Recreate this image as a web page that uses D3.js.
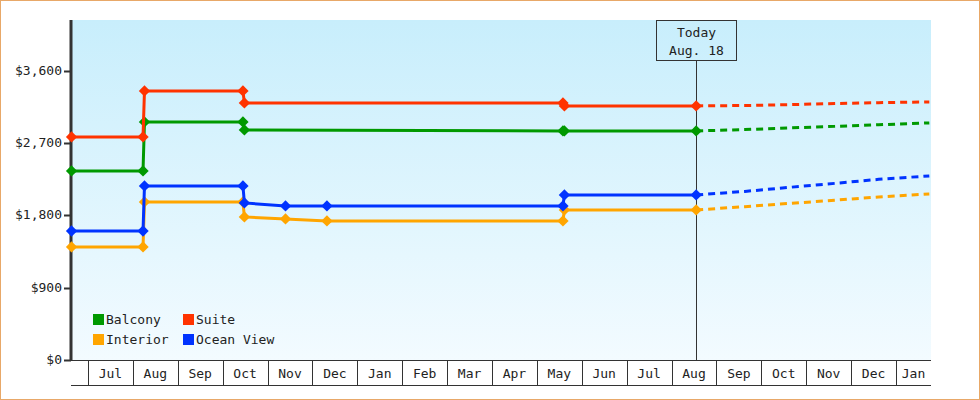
<!DOCTYPE html>
<html><head><meta charset="utf-8">
<script src="https://cdn.jsdelivr.net/npm/d3@7"></script>
<style>body{margin:0}svg{display:block}text{font-family:"DejaVu Sans Mono",monospace;fill:#222}</style>
</head><body><svg id="c" width="980" height="400"></svg>
<script>
const seriesNames=["Balcony","Suite","Interior","Ocean View"];
const colors=["#009900","#ff3300","#ffa500","#0033ff"];
const dates=["2012-06-20","2012-08-08","2012-08-09","2012-10-15","2012-10-16","2012-11-13","2012-12-11","2013-05-19","2013-05-20","2013-08-18"];
const balcony=[2355,2355,2965,2965,2866,null,null,2853,2853,2853];
const suite=[2779,2779,3352,3352,3202,null,null,3202,3165,3165];
const interior=[1408,1408,1969,1969,1782,1757,1732,1732,1869,1869];
const ocean=[1607,1607,2168,2168,1956,1919,1919,1919,2056,2056];
const fcDates=["2013-08-18","2013-09-20","2013-10-20","2013-11-20","2013-12-20","2014-01-24"];
const fcBalcony=[2853,2870,2890,2910,2930,2953];
const fcSuite=[3165,3170,3180,3195,3205,3215];
const fcInterior=[1869,1910,1950,1990,2030,2068];
const fcOcean=[2056,2100,2150,2200,2250,2293];
const yTicks=[0,900,1800,2700,3600];
const monthTicks=["2012-07-01","2012-08-01","2012-09-01","2012-10-01","2012-11-01","2012-12-01","2013-01-01","2013-02-01","2013-03-01","2013-04-01","2013-05-01","2013-06-01","2013-07-01","2013-08-01","2013-09-01","2013-10-01","2013-11-01","2013-12-01","2014-01-01"];
const today="2013-08-18";

const P=d3.timeParse("%Y-%m-%d");
function mu(s){const d=P(s);const m0=d3.timeMonth.floor(d),m1=d3.timeMonth.offset(m0,1);return d.getFullYear()*12+d.getMonth()+(d-m0)/(m1-m0);}
const svg=d3.select("#c");
const L=71,R=931,T=20,B=360;
const x=d3.scaleLinear().domain([mu("2012-07-01"),mu("2014-01-01")]).range([88,896]);
const X=s=>x(mu(s));
const y=d3.scaleLinear().domain([0,4235]).range([B,T]);
svg.append("rect").attr("x",0.5).attr("y",0.5).attr("width",979).attr("height",399).attr("fill","#fff").attr("stroke","#e8a868");
const g=svg.append("defs").append("linearGradient").attr("id","bg").attr("x1",0).attr("x2",0).attr("y1",0).attr("y2",1);
g.append("stop").attr("offset","0").attr("stop-color","#c8eefc");
g.append("stop").attr("offset","1").attr("stop-color","#f3fbff");
svg.append("rect").attr("x",L).attr("y",T).attr("width",R-L).attr("height",B-T).attr("fill","url(#bg)");

svg.append("line").attr("x1",L).attr("x2",R).attr("y1",385.5).attr("y2",385.5).attr("stroke","#333");
svg.append("line").attr("x1",L).attr("x2",R).attr("y1",B+0.5).attr("y2",B+0.5).attr("stroke","#333");
monthTicks.forEach((d,i)=>{
  const xx=Math.round(X(d))+0.5;
  svg.append("line").attr("x1",xx).attr("x2",xx).attr("y1",B).attr("y2",385).attr("stroke","#333");
  const nx=i<monthTicks.length-1?X(monthTicks[i+1]):R;
  svg.append("text").attr("x",(X(d)+nx)/2).attr("y",378).attr("text-anchor","middle").attr("font-size",13).text(d3.timeFormat("%b")(P(d)));
});
svg.append("line").attr("x1",L).attr("x2",L).attr("y1",T).attr("y2",B+1).attr("stroke","#333").attr("stroke-width",3);
yTicks.forEach(v=>{
  svg.append("line").attr("x1",L-7).attr("x2",L).attr("y1",Math.round(y(v))+0.5).attr("y2",Math.round(y(v))+0.5).attr("stroke","#333").attr("stroke-width",2);
  svg.append("text").attr("x",L-9).attr("y",y(v)+4).attr("text-anchor","end").attr("font-size",13).text("$"+d3.format(",")(v));
});
const tx=Math.round(X(today))+0.5;
svg.append("line").attr("x1",tx).attr("x2",tx).attr("y1",60).attr("y2",B).attr("stroke","#333");
svg.append("rect").attr("x",tx-40).attr("y",20.5).attr("width",80).attr("height",40).attr("fill","none").attr("stroke","#333");
svg.append("text").attr("x",tx).attr("y",37).attr("text-anchor","middle").attr("font-size",13).text("Today");
svg.append("text").attr("x",tx).attr("y",55).attr("text-anchor","middle").attr("font-size",13).text("Aug. 18");

const all=[balcony,suite,interior,ocean], fcs=[fcBalcony,fcSuite,fcInterior,fcOcean];
const line=d3.line().x(d=>X(d[0])).y(d=>y(d[1]));
[2,3,0,1].forEach(i=>{
  const pts=dates.map((d,j)=>[d,all[i][j]]).filter(p=>p[1]!=null);
  svg.append("path").attr("d",line(fcDates.map((d,j)=>[d,fcs[i][j]]))).attr("fill","none").attr("stroke",colors[i]).attr("stroke-width",3).attr("stroke-dasharray","7,5");
  svg.append("path").attr("d",line(pts)).attr("fill","none").attr("stroke",colors[i]).attr("stroke-width",3);
  const sym=d3.symbol().type(d3.symbolSquare).size(64);
  svg.selectAll(null).data(pts).enter().append("path").attr("d",sym).attr("transform",p=>`translate(${X(p[0])},${y(p[1])}) rotate(45)`).attr("fill",colors[i]);
});
[[0,93,320],[1,183,320],[2,93,340],[3,183,340]].forEach(([i,lx,ly])=>{
  svg.append("rect").attr("x",lx).attr("y",ly-6).attr("width",11).attr("height",11).attr("fill",colors[i]);
  svg.append("text").attr("x",lx+13).attr("y",ly+4).attr("font-size",13).text(seriesNames[i]);
});
</script></body></html>
